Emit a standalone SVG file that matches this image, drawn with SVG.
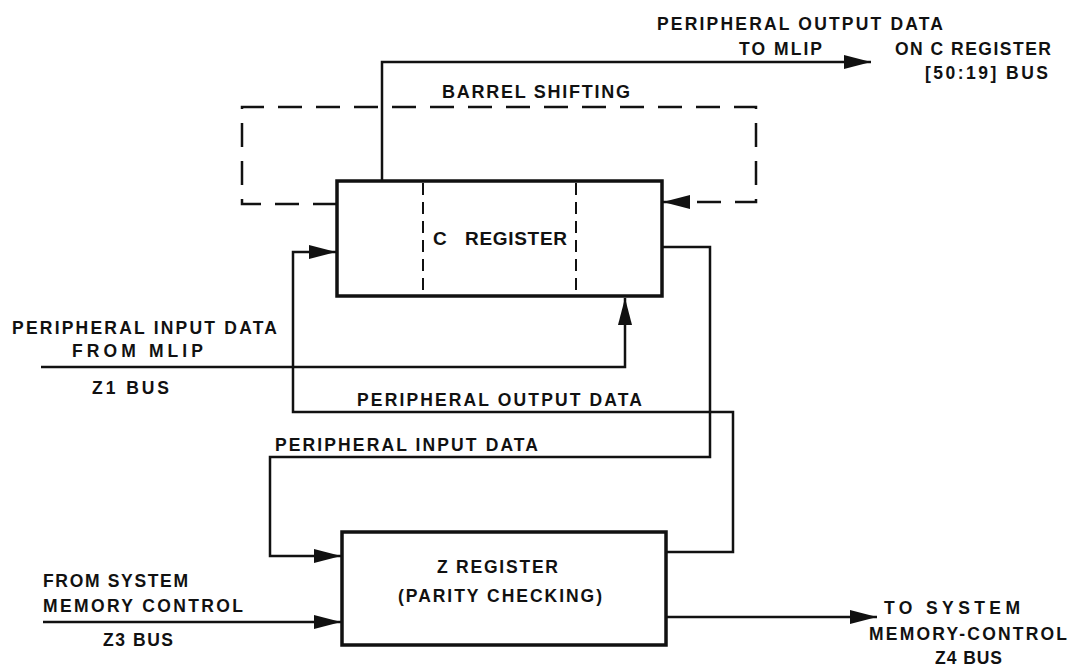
<svg xmlns="http://www.w3.org/2000/svg" width="1071" height="666" viewBox="0 0 1071 666">
<style>
  text { font-family: "Liberation Sans", Arial, sans-serif; font-weight: bold; font-size: 17.5px; fill: #111; }
  .big { font-size: 19px; }
  .box { fill: none; stroke: #111; stroke-width: 3.5; stroke-linejoin: miter; }
  .div { fill: none; stroke: #111; stroke-width: 2; stroke-dasharray: 12 7; }
  .wire { fill: none; stroke: #111; stroke-width: 2.5; stroke-linejoin: miter; }
  .dash { fill: none; stroke: #111; stroke-width: 2.5; stroke-dasharray: 24 14; }
</style>
<defs>
  <marker id="arr" viewBox="0 0 27 14" refX="27" refY="7" markerWidth="27" markerHeight="14" markerUnits="userSpaceOnUse" orient="auto">
    <path d="M0,0 L27,7 L0,14 z" fill="#111"/>
  </marker>
</defs>
<rect width="1071" height="666" fill="#fff"/>

<g id="connectors">
  <path class="dash" d="M337,204 H242 V107 H756 V202 H663" marker-end="url(#arr)"/>
  <path class="wire" d="M382,181 V62 H871" marker-end="url(#arr)"/>
  <path class="wire" d="M41,367 H625 V298" marker-end="url(#arr)"/>
  <path class="wire" d="M666,552 H733 V412 H293 V252 H336" marker-end="url(#arr)"/>
  <path class="wire" d="M662,247 H710 V457 H270 V556 H341" marker-end="url(#arr)"/>
  <path class="wire" d="M43,622 H341" marker-end="url(#arr)"/>
  <path class="wire" d="M666,617 H877" marker-end="url(#arr)"/>
</g>

<g id="c-register">
  <rect class="box" x="337" y="181" width="325" height="115"/>
  <line class="div" x1="423" y1="183" x2="423" y2="295"/>
  <line class="div" x1="576" y1="183" x2="576" y2="295"/>
  <text class="big" y="245"><tspan x="433">C</tspan><tspan x="465" textLength="102" lengthAdjust="spacing">REGISTER</tspan></text>
</g>

<g id="z-register">
  <rect class="box" x="342" y="532" width="324" height="113"/>
  <text x="437" y="573" textLength="121" lengthAdjust="spacing">Z REGISTER</text>
  <text x="398" y="602" textLength="204" lengthAdjust="spacing">(PARITY CHECKING)</text>
</g>

<g id="labels">
  <text x="657" y="30" textLength="286" lengthAdjust="spacing">PERIPHERAL OUTPUT DATA</text>
  <text x="739" y="55" textLength="83" lengthAdjust="spacing">TO MLIP</text>
  <text x="895" y="55" textLength="156" lengthAdjust="spacing">ON C REGISTER</text>
  <text x="925" y="79" textLength="123" lengthAdjust="spacing">[50:19] BUS</text>
  <text x="442" y="98" style="font-size:18px" textLength="188" lengthAdjust="spacing">BARREL SHIFTING</text>
  <text x="12" y="334" textLength="265" lengthAdjust="spacing">PERIPHERAL INPUT DATA</text>
  <text x="72" y="357" textLength="131" lengthAdjust="spacing">FROM MLIP</text>
  <text x="92" y="394" textLength="77" lengthAdjust="spacing">Z1 BUS</text>
  <text x="357" y="406" textLength="285" lengthAdjust="spacing">PERIPHERAL OUTPUT DATA</text>
  <text x="275" y="451" textLength="263" lengthAdjust="spacing">PERIPHERAL INPUT DATA</text>
  <text x="43" y="587" textLength="145" lengthAdjust="spacing">FROM SYSTEM</text>
  <text x="43" y="612" textLength="200" lengthAdjust="spacing">MEMORY CONTROL</text>
  <text x="103" y="646" textLength="70" lengthAdjust="spacing">Z3 BUS</text>
  <text x="884" y="614" textLength="136" lengthAdjust="spacing">TO SYSTEM</text>
  <text x="869" y="640" textLength="198" lengthAdjust="spacing">MEMORY-CONTROL</text>
  <text x="935" y="664" textLength="67" lengthAdjust="spacing">Z4 BUS</text>
</g>
</svg>
